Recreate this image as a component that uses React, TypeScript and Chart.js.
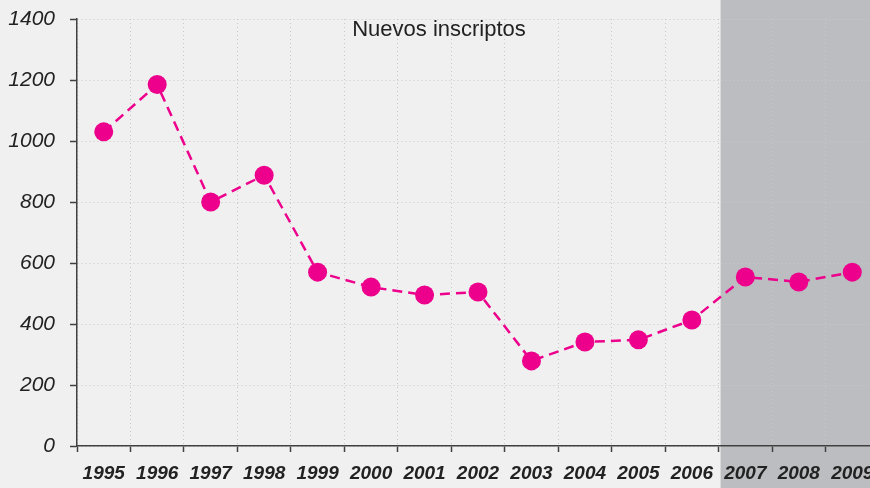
import React, { useEffect, useRef } from "react";
import { Chart, registerables } from "chart.js";

Chart.register(...registerables);

const years = ["1995", "1996", "1997", "1998", "1999", "2000", "2001", "2002", "2003", "2004", "2005", "2006", "2007", "2008", "2009"];
const nuevosInscriptos = [1030, 1185, 800, 888, 570, 521, 495, 505, 279, 341, 348, 413, 554, 538, 570];
const yTickValues = [0, 200, 400, 600, 800, 1000, 1200, 1400];
const shadedFrom = "2007";
const chartTitle = "Nuevos inscriptos";

const FONT = "'Liberation Sans', Arial, sans-serif";

const bgPlugin = {
  id: "bgShade",
  beforeDraw(chart: any) {
    const { ctx, width, height, scales } = chart;
    ctx.save();
    ctx.fillStyle = "#eff0ef";
    ctx.fillRect(0, 0, width, height);
    const x = scales.x;
    const idx = years.indexOf(shadedFrom);
    const half = x.width / years.length / 2;
    const left = x.getPixelForValue(idx) - half + 2;
    ctx.fillStyle = "#bcbdc1";
    ctx.fillRect(left, 0, width - left, height);
    ctx.restore();
  },
};

const titlePlugin = {
  id: "innerTitle",
  afterDraw(chart: any) {
    const { ctx, chartArea } = chart;
    ctx.save();
    ctx.font = `22px ${FONT}`;
    ctx.fillStyle = "#222222";
    ctx.textAlign = "center";
    ctx.textBaseline = "middle";
    ctx.fillText(chartTitle, 439, chartArea.top + 11);
    ctx.restore();
  },
};

export default function App() {
  const ref = useRef<HTMLCanvasElement | null>(null);

  useEffect(() => {
    if (!ref.current) return;
    const chart = new Chart(ref.current, {
      type: "line",
      data: {
        labels: years,
        datasets: [
          {
            label: chartTitle,
            data: nuevosInscriptos,
            borderColor: "#ec008c",
            backgroundColor: "#ec008c",
            borderWidth: 2.5,
            borderDash: [10, 6],
            pointRadius: 9.5,
            pointHoverRadius: 9.5,
            pointBorderWidth: 0,
            pointBackgroundColor: "#ec008c",
            tension: 0,
            fill: false,
            clip: false,
          },
        ],
      },
      options: {
        animation: false,
        responsive: false,
        devicePixelRatio: 1,
        layout: { autoPadding: false, padding: { top: 19, left: 0, right: 0, bottom: 0 } },
        plugins: {
          legend: { display: false },
          title: { display: false },
          tooltip: { enabled: false },
        },
        scales: {
          x: {
            type: "category",
            offset: true,
            grid: {
              offset: true,
              color: "#c8c8c8",
              lineWidth: 1,
              drawTicks: true,
              tickLength: 6,
              tickColor: "#404040",
              tickWidth: 1.5,
            },
            border: { color: "#404040", width: 1.5, dash: [1, 3] },
            ticks: {
              autoSkip: false,
              maxRotation: 0,
              minRotation: 0,
              padding: 10,
              color: "#222222",
              font: { family: FONT, size: 19, style: "italic", weight: "bold" },
            },
            afterFit(scale: any) {
              scale.height = 42;
              scale.paddingLeft = 0;
              scale.paddingRight = 0;
            },
          },
          y: {
            min: 0,
            max: 1400,
            afterBuildTicks(scale: any) {
              scale.ticks = yTickValues.map((v) => ({ value: v }));
            },
            grid: {
              color: "#c8c8c8",
              lineWidth: 1,
              drawTicks: true,
              tickLength: 7,
              tickColor: "#404040",
              tickWidth: 1.5,
            },
            border: { color: "#404040", width: 1.5, dash: [1, 3] },
            ticks: {
              padding: 15,
              color: "#222222",
              font: { family: FONT, size: 21, style: "italic" },
              callback: (v: any) => String(v),
            },
            afterFit(scale: any) {
              scale.width = 77;
              scale.paddingTop = 0;
              scale.paddingBottom = 0;
            },
          },
        },
      },
      plugins: [bgPlugin, titlePlugin],
    });
    return () => chart.destroy();
  }, []);

  return (
    <div
      style={{
        position: "absolute",
        left: 0,
        top: 0,
        width: 870,
        height: 488,
        overflow: "hidden",
        background: "#eff0ef",
      }}
    >
      <canvas ref={ref} width={879} height={488} style={{ display: "block", width: 879, height: 488 }} />
    </div>
  );
}
